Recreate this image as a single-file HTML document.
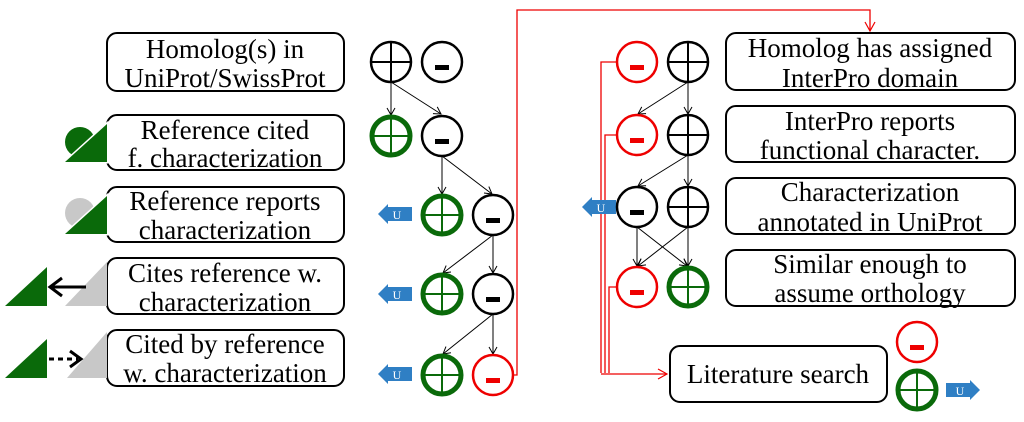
<!DOCTYPE html>
<html><head><meta charset="utf-8"><style>
html,body{margin:0;padding:0;background:#fff;}
svg{display:block;}
text{font-family:"Liberation Serif",serif;font-size:27px;fill:#000;}
</style></head><body>
<svg width="1024" height="422" viewBox="0 0 1024 422" xmlns="http://www.w3.org/2000/svg">
<defs>
<marker id="a" markerWidth="10" markerHeight="10" refX="8" refY="5" orient="auto" markerUnits="userSpaceOnUse"><path d="M1,1 L8,5 L1,9" fill="none" stroke="#000" stroke-width="1"/></marker>
<marker id="r" markerWidth="12" markerHeight="12" refX="10" refY="6" orient="auto" markerUnits="userSpaceOnUse"><path d="M1,1 L10,6 L1,11" fill="none" stroke="#e00" stroke-width="1.2"/></marker>
<g id="pb"><circle r="20" fill="#fff" stroke="#000" stroke-width="2.5"/><path d="M-20,0H20M0,-20V20" stroke="#000" stroke-width="2"/></g>
<g id="pg"><circle r="19" fill="#fff" stroke="#0a6a0a" stroke-width="5"/><path d="M-19,0H19M0,-19V19" stroke="#0a6a0a" stroke-width="2"/></g>
<g id="mb"><circle r="20" fill="#fff" stroke="#000" stroke-width="2.5"/><rect x="-7" y="3" width="14" height="5" fill="#000"/></g>
<g id="mr"><circle r="20" fill="#fff" stroke="#e00" stroke-width="2.5"/><rect x="-7" y="3" width="14" height="5" fill="#e00"/></g>
<g id="ul"><path d="M-17,0 L-7,-10 L-7,-7 L17,-7 L17,7 L-7,7 L-7,10 Z" fill="#2f7fc4"/><text x="2" y="5" style="font-size:12px;fill:#fff" text-anchor="middle">U</text></g>
<g id="ur"><path d="M17,0 L7,-10 L7,-7 L-17,-7 L-17,7 L7,7 L7,10 Z" fill="#2f7fc4"/><text x="-3" y="5" style="font-size:12px;fill:#fff" text-anchor="middle">U</text></g>
</defs>

<g fill="#fff" stroke="#000" stroke-width="2">
<rect x="107" y="33" width="237" height="58" rx="10"/>
<rect x="107" y="115" width="237" height="55" rx="10"/>
<rect x="107" y="187" width="237" height="55" rx="10"/>
<rect x="107" y="258" width="237" height="56" rx="10"/>
<rect x="107" y="330" width="237" height="56" rx="10"/>
<rect x="726" y="33" width="289" height="57" rx="10"/>
<rect x="726" y="106" width="289" height="56" rx="10"/>
<rect x="726" y="178" width="289" height="56" rx="10"/>
<rect x="726" y="250" width="289" height="56" rx="10"/>
<rect x="670" y="346" width="217" height="56" rx="10"/>
</g>
<g text-anchor="middle">
<text x="225" y="58">Homolog(s) in</text><text x="225" y="87">UniProt/SwissProt</text>
<text x="225" y="139">Reference cited</text><text x="225" y="167">f. characterization</text>
<text x="225" y="210">Reference reports</text><text x="225" y="239">characterization</text>
<text x="225" y="282">Cites reference w.</text><text x="225" y="311">characterization</text>
<text x="225" y="353">Cited by reference</text><text x="225" y="382">w. characterization</text>
<text x="870" y="57">Homolog has assigned</text><text x="870" y="87">InterPro domain</text>
<text x="870" y="130">InterPro reports</text><text x="870" y="159">functional character.</text>
<text x="870" y="201">Characterization</text><text x="870" y="231">annotated in UniProt</text>
<text x="870" y="273">Similar enough to</text><text x="870" y="302">assume orthology</text>
<text x="778" y="383">Literature search</text>
</g>

<circle cx="80" cy="142" r="15" fill="#0a6a0a"/>
<path d="M107,124 L107,162 L65,162 Z" fill="#0a6a0a" stroke="#fff" stroke-width="3"/>
<path d="M107,124 L107,162 L65,162 Z" fill="#0a6a0a"/>
<circle cx="80" cy="213" r="15" fill="#c8c8c8"/>
<path d="M107,196 L107,234 L65,234 Z" fill="#0a6a0a" stroke="#fff" stroke-width="3"/>
<path d="M107,196 L107,234 L65,234 Z" fill="#0a6a0a"/>
<path d="M47,267 L47,306 L5,306 Z" fill="#0a6a0a"/>
<path d="M107,262 L107,306 L65,306 Z" fill="#c8c8c8"/>
<path d="M86,287 H51" stroke="#000" stroke-width="3"/>
<path d="M62,278 L50,287 L62,296" fill="none" stroke="#000" stroke-width="3"/>
<path d="M47,339 L47,378 L5,378 Z" fill="#0a6a0a"/>
<path d="M107,332 L107,378 L67,378 Z" fill="#c8c8c8"/>
<path d="M49,359 H78" stroke="#000" stroke-width="3" stroke-dasharray="5,4"/>
<path d="M70,351 L81,359 L70,367" fill="none" stroke="#000" stroke-width="3"/>

<g fill="none" stroke="#e00" stroke-width="1.3">
<path d="M514,375 H517 V10 H870 V31" marker-end="url(#r)"/>
<path d="M616,62 H601 V373"/>
<path d="M616,135 H605 V373"/>
<path d="M616,287 H609 V373"/>
<path d="M601,374 H667" marker-end="url(#r)"/>
</g>

<g stroke="#000" stroke-width="1" fill="none" marker-end="url(#a)">
<path d="M391,82 V115"/><path d="M391,82 L441,114"/>
<path d="M442,156 V194"/><path d="M442,156 L492,194"/>
<path d="M493,235 L443,273"/><path d="M493,235 V273"/>
<path d="M493,314 L443,354"/><path d="M493,314 V354"/>
<path d="M688,82 L638,114"/><path d="M688,82 V114"/>
<path d="M688,155 L638,186"/><path d="M688,155 V186"/>
<path d="M637,227 V266"/><path d="M637,227 L687,266"/>
<path d="M688,227 L638,266"/><path d="M688,227 V266"/>
</g>

<use href="#pb" x="391" y="62"/><use href="#mb" x="442" y="62"/>
<use href="#pg" x="391" y="136"/><use href="#mb" x="442" y="136"/>
<use href="#ul" x="395" y="214"/><use href="#pg" x="442" y="215"/><use href="#mb" x="493" y="215"/>
<use href="#ul" x="395" y="294"/><use href="#pg" x="442" y="294"/><use href="#mb" x="493" y="294"/>
<use href="#ul" x="395" y="374"/><use href="#pg" x="442" y="375"/><use href="#mr" x="493" y="375"/>

<use href="#mr" x="637" y="62"/><use href="#pb" x="688" y="62"/>
<use href="#mr" x="637" y="135"/><use href="#pb" x="688" y="135"/>
<use href="#ul" x="599" y="207"/><use href="#mb" x="637" y="207"/><use href="#pb" x="688" y="207"/>
<use href="#mr" x="637" y="287"/><use href="#pg" x="688" y="287"/>
<use href="#mr" x="917" y="342"/><use href="#pg" x="917" y="390"/><use href="#ur" x="963" y="390"/>
</svg>
</body></html>
